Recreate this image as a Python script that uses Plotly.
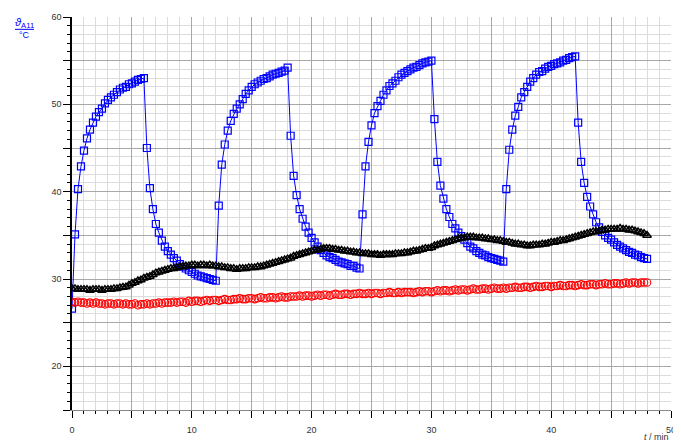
import plotly.graph_objects as go

# time axis (min), sampled every 0.25 min
t_min = [i * 0.25 for i in range(193)]

blue_A11 = [
    26.6, 35.1, 40.3, 42.9, 44.7, 46.1, 47.1, 47.9, 48.6, 49.1, 49.5, 50.1, 50.5, 50.8, 51.1, 51.4, 51.7, 51.9, 52.0, 52.3, 52.4, 52.6, 52.8, 52.9, 53.0,
    45.0, 40.4, 38.0, 36.3, 35.3, 34.4, 33.7, 33.2, 32.8, 32.4, 32.1, 31.7, 31.4, 31.2, 31.0, 30.8, 30.6, 30.4, 30.3, 30.2, 30.1, 30.0, 29.9, 29.8,
    38.4, 43.1, 45.4, 47.0, 48.1, 48.9, 49.5, 50.0, 50.6, 51.2, 51.6, 52.0, 52.3, 52.5, 52.7, 52.9, 53.0, 53.2, 53.4, 53.5, 53.6, 53.75, 53.85, 54.2,
    46.4, 41.8, 39.6, 38.0, 36.9, 36.0, 35.3, 34.7, 34.2, 33.7, 33.3, 33.0, 32.7, 32.5, 32.4, 32.2, 32.0, 31.9, 31.8, 31.7, 31.5, 31.5, 31.3, 31.2,
    37.4, 42.9, 45.7, 47.6, 49.0, 49.8, 50.4, 51.1, 51.6, 52.1, 52.4, 52.7, 53.1, 53.4, 53.6, 53.8, 54.0, 54.2, 54.3, 54.5, 54.7, 54.8, 54.9, 55.0,
    48.3, 43.4, 40.7, 39.2, 38.0, 37.1, 36.3, 35.8, 35.3, 34.9, 34.5, 34.1, 33.7, 33.5, 33.2, 33.0, 32.8, 32.7, 32.5, 32.4, 32.3, 32.2, 32.1, 32.0,
    40.3, 44.8, 47.1, 48.7, 49.7, 50.8, 51.4, 52.0, 52.6, 53.0, 53.4, 53.7, 53.8, 54.1, 54.3, 54.4, 54.6, 54.7, 54.8, 55.0, 55.1, 55.3, 55.4, 55.5,
    47.9, 43.4, 41.0, 39.4, 38.3, 37.4, 36.5, 35.9, 35.4, 35.0, 34.7, 34.5, 34.2, 33.9, 33.7, 33.5, 33.3, 33.1, 33.0, 32.8, 32.7, 32.5, 32.4, 32.3,
]

black_series = [
    28.9, 28.9, 28.8, 28.8, 28.8, 28.8, 28.7, 28.8, 28.8, 28.8, 28.7, 28.8, 28.8, 28.8, 28.9, 28.9, 29.0,
    29.05, 29.1, 29.3, 29.5, 29.6, 29.8, 29.9, 30.1, 30.2, 30.3, 30.5, 30.7, 30.8, 30.9, 31.0, 31.1,
    31.2, 31.2, 31.3, 31.4, 31.4, 31.5, 31.5, 31.6, 31.6, 31.5, 31.6, 31.6, 31.5, 31.6, 31.5, 31.5,
    31.4, 31.4, 31.3, 31.3, 31.2, 31.2, 31.1, 31.2, 31.2, 31.2, 31.3, 31.3, 31.3, 31.4, 31.4, 31.5,
    31.6, 31.7, 31.8, 31.9, 32.0, 32.1, 32.2, 32.3, 32.4, 32.6, 32.7, 32.8, 32.9, 33.0, 33.1, 33.2,
    33.3, 33.3, 33.4, 33.5, 33.5, 33.5, 33.4, 33.4, 33.3, 33.3, 33.2, 33.2, 33.1, 33.1, 33.0, 33.0,
    32.9, 32.9, 32.9, 32.8, 32.8, 32.8, 32.7, 32.8, 32.8, 32.8, 32.8, 32.9, 32.9, 32.9, 33.0, 33.0,
    33.1, 33.2, 33.2, 33.3, 33.4, 33.5, 33.5, 33.6, 33.8, 33.9, 34.0, 34.1, 34.2, 34.3, 34.4, 34.5,
    34.6, 34.7, 34.7, 34.8, 34.8, 34.8, 34.7, 34.7, 34.7, 34.6, 34.6, 34.5, 34.5, 34.4, 34.4, 34.3,
    34.2, 34.2, 34.1, 34.0, 34.0, 33.9, 33.9, 33.8, 33.8, 33.9, 33.9, 33.9, 34.0, 34.0, 34.1, 34.2,
    34.2, 34.3, 34.4, 34.4, 34.5, 34.6, 34.7, 34.8, 34.9, 35.0, 35.1, 35.2, 35.3, 35.4, 35.4, 35.5,
    35.6, 35.6, 35.7, 35.7, 35.7, 35.7, 35.8, 35.7, 35.7, 35.6, 35.6, 35.5, 35.4, 35.3, 35.2, 35.0,
]

red_series = [
    27.4, 27.3, 27.4, 27.3, 27.3, 27.2, 27.3, 27.2, 27.3, 27.2, 27.2, 27.1, 27.2, 27.2, 27.1, 27.2, 27.2,
    27.1, 27.2, 27.1, 27.1, 27.2, 27.0, 27.1, 27.1, 27.2, 27.1, 27.2, 27.2, 27.3, 27.2, 27.3, 27.3,
    27.3, 27.4, 27.3, 27.4, 27.4, 27.3, 27.5, 27.4, 27.5, 27.5, 27.4, 27.5, 27.6, 27.5, 27.6, 27.6,
    27.5, 27.6, 27.7, 27.6, 27.6, 27.7, 27.7, 27.8, 27.7, 27.7, 27.8, 27.8, 27.7, 27.8, 27.9, 27.8,
    27.8, 27.9, 27.9, 27.8, 27.9, 28.0, 27.9, 27.9, 28.0, 28.0, 28.0, 28.1, 28.0, 28.1, 28.1, 28.0,
    28.1, 28.2, 28.1, 28.2, 28.2, 28.1, 28.2, 28.3, 28.2, 28.2, 28.3, 28.3, 28.2, 28.3, 28.3, 28.4,
    28.3, 28.3, 28.4, 28.3, 28.4, 28.4, 28.3, 28.4, 28.4, 28.5, 28.4, 28.4, 28.5, 28.4, 28.5, 28.5,
    28.5, 28.4, 28.5, 28.6, 28.5, 28.6, 28.6, 28.5, 28.6, 28.7, 28.6, 28.7, 28.7, 28.6, 28.7, 28.8,
    28.7, 28.8, 28.8, 28.7, 28.8, 28.9, 28.8, 28.8, 28.9, 28.9, 28.8, 28.9, 29.0, 28.9, 28.9, 29.0,
    28.9, 29.0, 29.0, 29.1, 29.0, 29.0, 29.1, 29.1, 29.0, 29.1, 29.2, 29.1, 29.1, 29.2, 29.2, 29.1,
    29.2, 29.2, 29.3, 29.2, 29.2, 29.3, 29.3, 29.2, 29.3, 29.4, 29.3, 29.3, 29.4, 29.4, 29.3, 29.4,
    29.4, 29.5, 29.4, 29.4, 29.5, 29.5, 29.4, 29.5, 29.6, 29.5, 29.6, 29.6, 29.5, 29.6, 29.6, 29.6,
]

x_tickvals = [0, 5, 10, 15, 20, 25, 30, 35, 40, 45, 50]
x_ticktext = ["0", " ", "10", " ", "20", " ", "30", " ", "40", " ", "50"]
y_tickvals = [15, 20, 25, 30, 35, 40, 45, 50, 55, 60]
y_ticktext = [" ", "20", " ", "30", " ", "40", " ", "50", " ", "60"]

BLUE = "#0000ff"
FONT = "Liberation Sans, Arial, sans-serif"

fig = go.Figure()
fig.add_trace(go.Scatter(
    x=t_min, y=blue_A11, mode="lines+markers",
    line=dict(color=BLUE, width=1),
    marker=dict(symbol="square-open", size=7, color=BLUE, line=dict(width=1.2, color=BLUE)),
    showlegend=False))
fig.add_trace(go.Scatter(
    x=t_min, y=black_series, mode="markers",
    marker=dict(symbol="triangle-up-open", size=7.5, color="black", line=dict(width=1.5, color="black")),
    showlegend=False))
fig.add_trace(go.Scatter(
    x=t_min, y=red_series, mode="markers",
    marker=dict(symbol="circle-open", size=7.5, color="#ff0000", line=dict(width=1.1, color="#ff0000")),
    showlegend=False))

axis_font = dict(family=FONT, size=9, color="#333333")

fig.update_xaxes(
    range=[0, 50], tickvals=x_tickvals, ticktext=x_ticktext,
    ticks="outside", ticklen=7, tickwidth=1, tickcolor="black",
    showgrid=True, gridcolor="#a8a8a8", gridwidth=1,
    minor=dict(dtick=1, ticks="outside", ticklen=3, tickcolor="black", tickwidth=1,
               showgrid=True, gridcolor="#dcdcdc", gridwidth=1),
    showline=True, linecolor="#888888", linewidth=1,
    zeroline=False, tickfont=axis_font, ticklabelstandoff=4,
    ticklabeloverflow="allow")
fig.update_yaxes(
    range=[15, 60], tickvals=y_tickvals, ticktext=y_ticktext,
    ticks="outside", ticklen=7, tickwidth=1, tickcolor="black",
    showgrid=True, gridcolor="#a8a8a8", gridwidth=1,
    minor=dict(dtick=1, ticks="outside", ticklen=3, tickcolor="black", tickwidth=1,
               showgrid=True, gridcolor="#dcdcdc", gridwidth=1),
    showline=True, linecolor="black", linewidth=1.5,
    zeroline=False, tickfont=axis_font, ticklabeloverflow="allow")

# page has an 8px body margin; figure is placed at (8, 8) in the page
OFF = 8
W, H = 681 - OFF, 445 - OFF
# plot area in page pixels: left 72, right 671, top 12, bottom 410
L = 72 - OFF
T = 12 - OFF
R = W - (671 - OFF)
B = H - (410 - OFF)
pw, ph = W - L - R, H - T - B

def px(x_page):
    return (x_page - OFF - L) / pw

def py(y_page):
    return 1 - (y_page - OFF - T) / ph

fig.add_annotation(x=px(24), y=py(18), xref="paper", yref="paper",
                   text="<i>ϑ</i><sub>A11</sub>", showarrow=False,
                   font=dict(family=FONT, size=11, color=BLUE),
                   xanchor="center", yanchor="middle")
fig.add_shape(type="line", xref="paper", yref="paper",
              x0=px(15), x1=px(34), y0=py(24.5), y1=py(24.5),
              line=dict(color=BLUE, width=1))
fig.add_annotation(x=px(24), y=py(30), xref="paper", yref="paper",
                   text="°C", showarrow=False,
                   font=dict(family=FONT, size=9, color=BLUE),
                   xanchor="center", yanchor="middle")
fig.add_annotation(x=px(671), y=py(444), xref="paper", yref="paper",
                   text="<i>t</i> / min", showarrow=False,
                   font=dict(family=FONT, size=9, color="#333333"),
                   xanchor="right", yanchor="bottom")

fig.update_layout(
    width=W, height=H,
    margin=dict(l=L, r=R, t=T, b=B),
    paper_bgcolor="white", plot_bgcolor="white",
)

fig.write_html("out.html")
